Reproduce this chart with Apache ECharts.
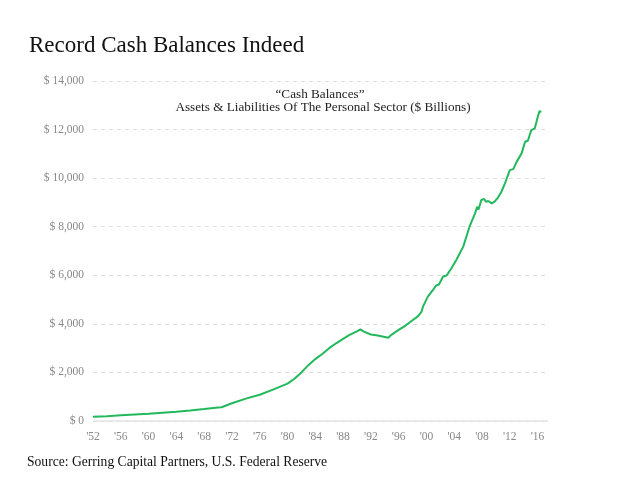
<!DOCTYPE html>
<html><head><meta charset="utf-8">
<script src="https://cdn.jsdelivr.net/npm/echarts@6/dist/echarts.min.js"></script>
<style>html,body{margin:0;padding:0;background:#fff}#c{width:640px;height:480px}</style>
</head><body><div id="c"></div>
<script>
const titleText = 'Record Cash Balances Indeed';
const subTitle1 = '\u201cCash Balances\u201d';
const subTitle2 = 'Assets & Liabilities Of The Personal Sector ($ Billions)';
const sourceText = 'Source: Gerring Capital Partners, U.S. Federal Reserve';
const years = [1952,1954,1956,1958,1960,1962,1964,1966,1968,1970,1970.5,1972,1974,1976,1978,1980,1981,1982,1983,1984,1985,1986,1987,1988,1989,1990,1990.5,1991,1992,1993,1994,1994.5,1995,1996,1997,1998,1998.8,1999.3,1999.5,2000.2,2001,2001.4,2001.8,2002.4,2002.9,2003.6,2004.3,2005.3,2006.2,2007.0,2007.3,2007.5,2007.9,2008.3,2008.6,2008.9,2009.4,2009.8,2010.3,2010.8,2011.3,2012.0,2012.5,2013.0,2013.7,2014.2,2014.6,2015.1,2015.6,2016.1,2016.3,2016.5];
const balances = [180,200,235,270,300,340,380,430,490,555,565,730,920,1080,1300,1540,1740,2000,2300,2550,2760,3000,3200,3380,3560,3690,3770,3680,3560,3520,3460,3430,3560,3750,3930,4150,4320,4500,4710,5120,5420,5580,5620,5950,5990,6290,6630,7180,8000,8550,8820,8710,9100,9140,9020,9060,8960,9030,9200,9440,9780,10330,10370,10680,11020,11500,11540,11980,12050,12600,12770,12710];
const yTicks = [0,2000,4000,6000,8000,10000,12000,14000];

const serif = '"Liberation Serif", "DejaVu Serif", serif';
const chart = echarts.init(document.getElementById('c'), null, {renderer:'canvas'});
chart.setOption({
  animation:false,
  backgroundColor:'#fff',
  title:[
    {text:titleText,left:29,top:34,padding:0,textStyle:{fontFamily:serif,fontSize:23,fontWeight:'normal',color:'#111'}},
    {text:sourceText,left:27,top:455,padding:0,textStyle:{fontFamily:serif,fontSize:13.6,fontWeight:'normal',color:'#111'}}
  ],
  graphic:[
    {type:'text',x:320,y:95,silent:true,style:{text:subTitle1,fontFamily:serif,fontSize:13.2,fill:'#222',align:'center',verticalAlign:'middle'}},
    {type:'text',x:323,y:108,silent:true,style:{text:subTitle2,fontFamily:serif,fontSize:13.2,fill:'#222',align:'center',verticalAlign:'middle'}}
  ],
  grid:{left:93,right:92,top:81,bottom:59,containLabel:false},
  xAxis:{type:'value',min:1952,max:2017.5,interval:4,
    axisLine:{show:false},axisTick:{show:false},splitLine:{show:false},
    axisLabel:{showMaxLabel:false,margin:10,color:'#888',fontFamily:serif,fontSize:11.5,
      formatter:v=>"'"+String(v).slice(2)}},
  yAxis:{type:'value',min:0,max:14000,interval:2000,
    axisLine:{show:false},axisTick:{show:false},
    splitLine:{lineStyle:{color:'#ddd',type:[4,4],width:1}},
    axisLabel:{margin:9,color:'#888',fontFamily:serif,fontSize:11.5,
      formatter:v=>'$ '+v.toLocaleString('en-US')}},
  series:[
    {type:'line',data:years.map((y,i)=>[y,balances[i]]),showSymbol:false,smooth:false,
      lineStyle:{color:'#22b85c',width:2},
      markLine:{silent:true,symbol:'none',label:{show:false},lineStyle:{color:'#e3e3e3',type:'solid',width:1.5},data:[{yAxis:0}]}}
  ]
});
</script></body></html>
